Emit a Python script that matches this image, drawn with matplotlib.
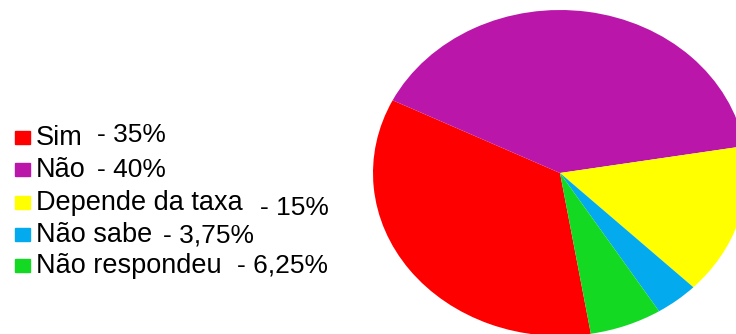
import matplotlib.pyplot as plt
from matplotlib.patches import Rectangle

labels = ["Sim", "Não", "Depende da taxa", "Não sabe", "Não respondeu"]
values = [35, 40, 15, 3.75, 6.25]
colors = ["#fe0000", "#bb16aa", "#ffff00", "#04aaee", "#14d922"]

# layout of the hand-placed legend (pixels in a 736x334 image)
label_baselines = [145, 177, 210, 242, 273]
pct_x = [97, 97, 260, 163, 237]
pct_baselines = [142, 177, 215, 242, 273]

W, H = 736, 334
plt.rcParams['font.family'] = ['Liberation Sans', 'DejaVu Sans']

fig = plt.figure(figsize=(W / 100, H / 100), dpi=100)

# ellipse bounding box: x 373..747, y 10..336
ax = fig.add_axes([373 / W, (H - 336) / H, 374 / W, 326 / H])
ax.pie(values, colors=colors, startangle=279.5, counterclock=False,
       radius=1, wedgeprops=dict(linewidth=0))
ax.set_aspect('auto')
ax.set_xlim(-1, 1)
ax.set_ylim(-1, 1)
ax.axis('off')

for lab, val, col, yb, px, pyb in zip(labels, values, colors, label_baselines,
                                        pct_x, pct_baselines):
    fig.patches.append(Rectangle((15 / W, 1 - (yb - 1) / H), 15 / W, 13 / H,
                                 transform=fig.transFigure, color=col))
    fig.text(36 / W, 1 - yb / H, lab, fontsize=19.5, va='baseline', ha='left')
    pct = f"{val:g}".replace(".", ",")
    fig.text(px / W, 1 - pyb / H, f"- {pct}%", fontsize=19, va='baseline', ha='left')

fig.savefig("out.png", dpi=100)
